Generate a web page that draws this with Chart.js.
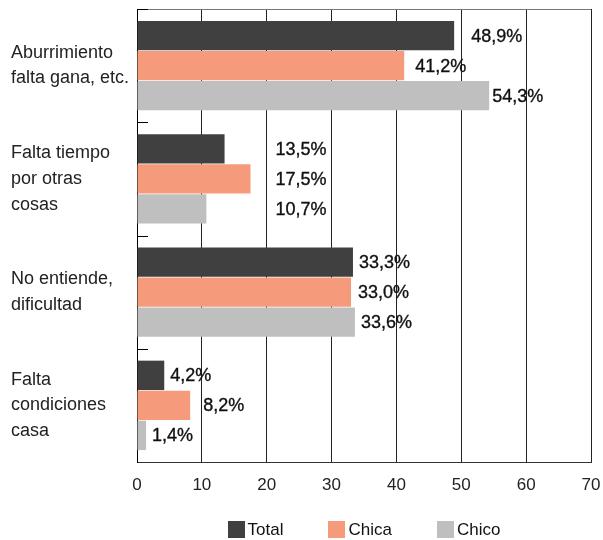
<!DOCTYPE html>
<html>
<head>
<meta charset="utf-8">
<script src="https://cdn.jsdelivr.net/npm/chart.js@4.4.1/dist/chart.umd.min.js"></script>
<style>
  html, body { margin: 0; padding: 0; background: #fff; }
  #wrap { width: 603px; height: 540px; }
</style>
</head>
<body>
<div id="wrap"><canvas id="chart"></canvas></div>
<script>
// datos
const categories = [
    ['Aburrimiento', 'falta gana, etc.'],
    ['Falta tiempo', 'por otras', 'cosas'],
    ['No entiende,', 'dificultad'],
    ['Falta', 'condiciones', 'casa']
];
const seriesNames = ['Total', 'Chica', 'Chico'];
const totalValues = [48.9, 13.5, 33.3, 4.2];
const chicaValues = [41.2, 17.5, 33.0, 8.2];
const chicoValues = [54.3, 10.7, 33.6, 1.4];
const xTicks = [0, 10, 20, 30, 40, 50, 60, 70];

const colors = ['#404040', '#f59b7c', '#bfbfbf'];
// desplazamiento de cada etiqueta (px) respecto al final de la barra
const labelNudge = [
    [17, 51, 6, 6],
    [11, 25, 7, 13],
    [3, 69, 6, 6]
];
const FONT = "'Liberation Sans', Arial, sans-serif";

// etiquetas de valor, marco y leyenda
const decorPlugin = {
    id: 'decor',
    afterDatasetsDraw(chart) {
        const ctx = chart.ctx;
        const area = chart.chartArea;
        ctx.save();
        // marco superior gris
        ctx.strokeStyle = '#777';
        ctx.lineWidth = 1;
        ctx.beginPath();
        ctx.moveTo(area.left, area.top + 0.5);
        ctx.lineTo(area.right, area.top + 0.5);
        ctx.stroke();
        // marcas internas en el eje de categorías
        ctx.strokeStyle = '#000';
        const n = categories.length;
        const step = (area.bottom - area.top) / n;
        for (let i = 0; i < n; i++) {
            const y = Math.round(area.top + i * step) + 0.5;
            ctx.beginPath();
            ctx.moveTo(area.left, y);
            ctx.lineTo(area.left + 11, y);
            ctx.stroke();
        }
        // valores (un poco más gruesos que el texto normal)
        ctx.font = '18px ' + FONT;
        ctx.fillStyle = '#111';
        ctx.strokeStyle = '#111';
        ctx.lineWidth = 0.35;
        ctx.textAlign = 'left';
        ctx.textBaseline = 'middle';
        chart.data.datasets.forEach((ds, d) => {
            const meta = chart.getDatasetMeta(d);
            meta.data.forEach((bar, i) => {
                const txt = ds.data[i].toFixed(1).replace('.', ',') + '%';
                const tx = bar.x + labelNudge[d][i];
                ctx.fillText(txt, tx, bar.y + 1);
                ctx.strokeText(txt, tx, bar.y + 1);
            });
        });
        // leyenda centrada en el área del gráfico
        ctx.font = '17px ' + FONT;
        const box = 17, gap = 3, spacing = 45;
        const widths = chart.data.datasets.map(ds => box + gap + ctx.measureText(ds.label).width);
        const total = widths.reduce((a, b) => a + b, 0) + spacing * (widths.length - 1);
        let x = (area.left + area.right) / 2 - total / 2;
        const ly = 521;
        chart.data.datasets.forEach((ds, d) => {
            ctx.fillStyle = ds.backgroundColor;
            ctx.fillRect(Math.round(x), ly, box, box);
            ctx.fillStyle = '#111';
            ctx.fillText(ds.label, x + box + gap, ly + box / 2 + 1);
            x += widths[d] + spacing;
        });
        ctx.restore();
    }
};

const ctx = document.getElementById('chart').getContext('2d');
new Chart(ctx, {
    type: 'bar',
    data: {
        labels: categories,
        datasets: [
            { label: seriesNames[0], data: totalValues, backgroundColor: colors[0] },
            { label: seriesNames[1], data: chicaValues, backgroundColor: colors[1] },
            { label: seriesNames[2], data: chicoValues, backgroundColor: colors[2] }
        ]
    },
    options: {
        indexAxis: 'y',
        responsive: true,
        maintainAspectRatio: false,
        animation: false,
        layout: { padding: { left: 11, right: 12, top: 9, bottom: 48 } },
        datasets: {
            bar: { categoryPercentage: 0.795, barPercentage: 0.98 }
        },
        plugins: {
            legend: { display: false },
            tooltip: { enabled: false }
        },
        scales: {
            x: {
                min: 0,
                max: 70,
                afterBuildTicks: scale => { scale.ticks = xTicks.map(v => ({ value: v })); },
                grid: { color: '#222', lineWidth: 1, drawTicks: false },
                border: { color: '#333', width: 1 },
                ticks: { color: '#222', padding: 13, font: { family: FONT, size: 17 } },
                afterFit: scale => {
                    scale.height = 30;
                    scale.paddingLeft = 0;
                    scale.paddingRight = 0;
                }
            },
            y: {
                grid: { display: false, drawTicks: false },
                border: { color: '#000', width: 1 },
                ticks: {
                    color: '#222',
                    crossAlign: 'far',
                    padding: 7,
                    font: { family: FONT, size: 18, lineHeight: 1.43 }
                },
                afterFit: scale => {
                    scale.width = 126;
                    scale.paddingTop = 0;
                    scale.paddingBottom = 0;
                }
            }
        }
    },
    plugins: [decorPlugin]
});
</script>
</body>
</html>
